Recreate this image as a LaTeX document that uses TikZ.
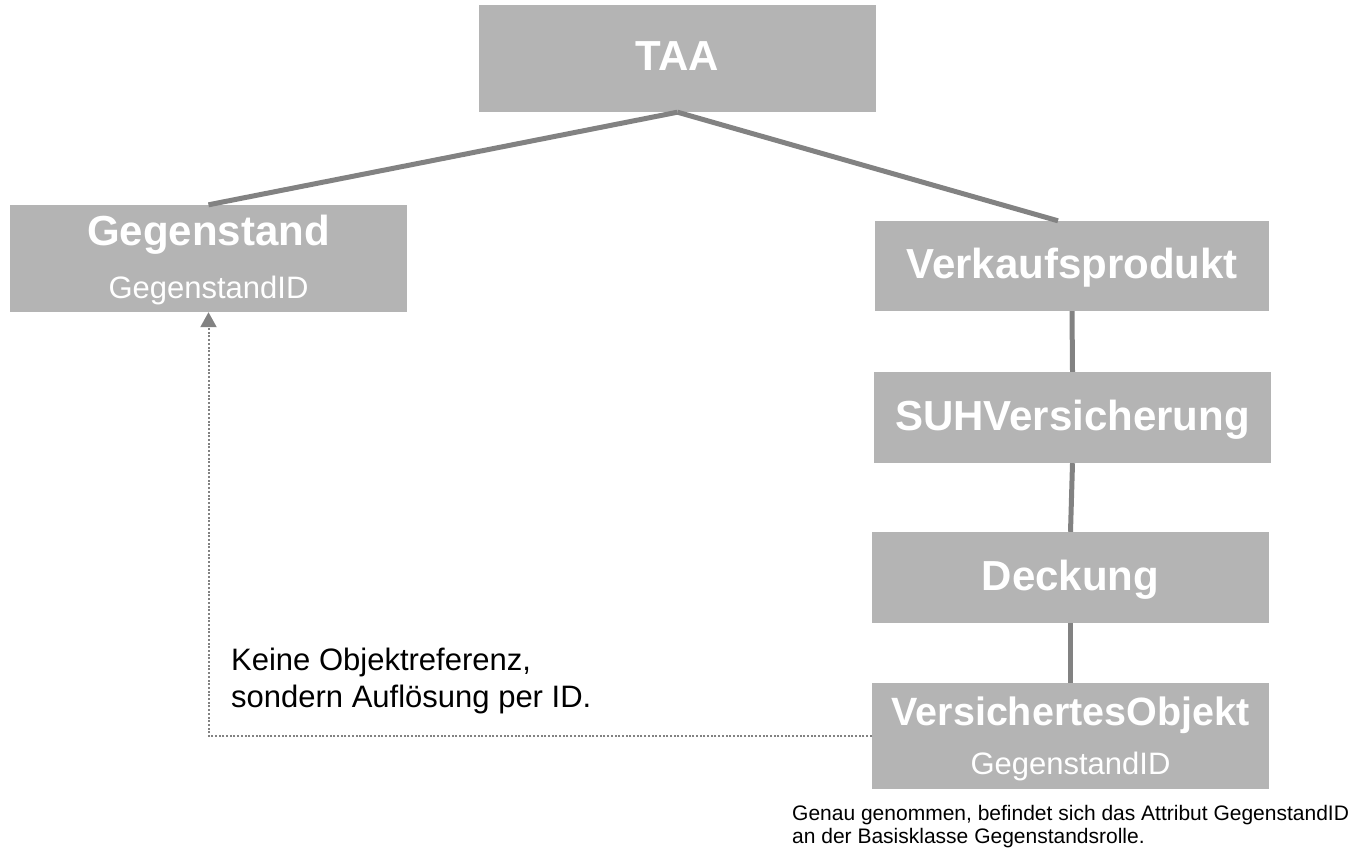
\documentclass[tikz,border=0pt]{standalone}
\usepackage{fontspec}
\setmainfont{Liberation Sans}
\usetikzlibrary{arrows.meta}
\definecolor{boxgray}{HTML}{B4B4B4}
\definecolor{linegray}{HTML}{828282}
\tikzset{
  box/.style 2 args={fill=boxgray, draw=none, minimum width=#1, minimum height=#2,
    inner sep=0pt, text=white, text height=25pt, text depth=0pt,
    font=\fontsize{42}{50}\selectfont\bfseries},
  titletext/.style={text=white, inner sep=0pt, anchor=base, font=\fontsize{42}{50}\selectfont\bfseries},
  subtext/.style={text=white, inner sep=0pt, anchor=base, font=\fontsize{31}{37}\selectfont},
  tree/.style={draw=linegray, line width=5pt},
  objref/.style={draw=linegray, line width=2pt, dash pattern=on 2pt off 1.7pt,
    -{Triangle[length=15pt,width=16pt]}},
  annot/.style={inner sep=0pt, anchor=base west, align=left, text=black,
    font=\fontsize{31}{37}\selectfont},
  footnote/.style={inner sep=0pt, anchor=base west, align=left, text=black,
    font=\fontsize{21}{23}\selectfont},
}
\begin{document}
\begin{tikzpicture}[x=1pt,y=-1pt]
\useasboundingbox (0,0) rectangle (1362,848);
% boxes
\node[box={397pt}{107pt}] (taa) at (677.5,58.5) {TAA};
\node[box={397pt}{107pt}] (geg) at (208.5,258.5) {};
\node[titletext] (gegT) at (208.5,245) {Gegenstand};
\node[subtext] (gegS) at (208.5,298) {GegenstandID};
\node[box={394pt}{90pt}] (verk) at (1072,266) {Verkaufsprodukt};
\node[box={397pt}{91pt}] (suh) at (1072.5,417.5) {SUHVersicherung};
\node[box={397pt}{91pt}] (deck) at (1070.5,577.5) {Deckung};
\node[box={397pt}{106pt}] (vo) at (1070.5,736) {};
\node[titletext, font=\fontsize{39.5}{47}\selectfont\bfseries] (voT) at (1070.5,725) {VersichertesObjekt};
\node[subtext] (voS) at (1070.5,774) {GegenstandID};
% tree connectors
\draw[tree] (taa.south) -- (geg.north);
\draw[tree] (taa.south) -- ([xshift=-14pt]verk.north);
\draw[tree] (verk.south) -- (suh.north);
\draw[tree] (suh.south) -- (deck.north);
\draw[tree] (deck.south) -- (vo.north);
% object reference by ID
\draw[objref] (vo.west) -| (geg.south);
% texts
\node[annot] (ann) at (231,707) {Keine Objektreferenz,\\sondern Auflösung per ID.};
\node[footnote] (fn) at (792,843) {Genau genommen, befindet sich das Attribut GegenstandID\\an der Basisklasse Gegenstandsrolle.};
\end{tikzpicture}
\end{document}
